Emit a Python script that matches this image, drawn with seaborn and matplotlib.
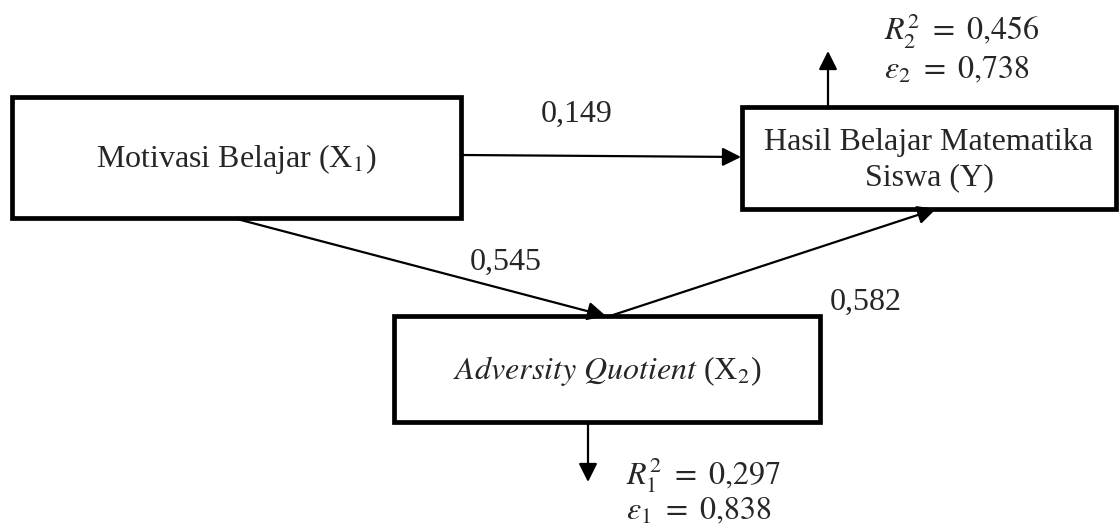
import matplotlib
matplotlib.use("Agg")
import matplotlib.pyplot as plt
import seaborn as sns
from matplotlib.patches import Rectangle

# path coefficients (X1->Y, X1->X2, X2->Y)
path_names = ["X1->Y", "X1->X2", "X2->Y"]
path_coef = [0.149, 0.545, 0.582]
# explained variance and residuals for X2 (1) and Y (2)
r_squared = [0.297, 0.456]
residuals = [0.838, 0.738]


def fmt(v):
    return f"{v:.3f}".replace(".", "{,}")


sns.set_theme(style="white")
plt.rcParams["font.family"] = ["Liberation Serif", "DejaVu Serif"]
plt.rcParams["mathtext.fontset"] = "stix"

fig = plt.figure(figsize=(11.19, 5.24), dpi=100)
ax = fig.add_axes([0, 0, 1, 1])
ax.set_xlim(0, 1119)
ax.set_ylim(524, 0)
ax.axis("off")

fs = 23
box_lw = 3.4

# boxes: (x0, y0, x1, y1)
boxes = {
    "X1": (12, 97, 461, 218),
    "Y": (742, 107, 1116, 209),
    "X2": (394, 316, 820, 422),
}
labels = {
    "X1": r"Motivasi Belajar (X$_{1}$)",
    "Y": "Hasil Belajar Matematika\nSiswa (Y)",
    "X2": r"$\mathit{Adversity\ Quotient}$ (X$_{2}$)",
}
for key, (x0, y0, x1, y1) in boxes.items():
    ax.add_patch(Rectangle((x0, y0), x1 - x0, y1 - y0, fill=False,
                           lw=box_lw, ec="black", joinstyle="miter"))
    ax.text((x0 + x1) / 2, (y0 + y1) / 2 + 2, labels[key], ha="center",
            va="center", fontsize=fs, linespacing=1.3)

arrow = dict(arrowstyle="-|>", mutation_scale=28, lw=1.6, color="black",
             shrinkA=0, shrinkB=0)

# path arrows
ax.annotate("", xy=(741, 157), xytext=(462, 155), arrowprops=arrow)
ax.annotate("", xy=(606, 316), xytext=(237, 219), arrowprops=arrow)
ax.annotate("", xy=(936, 209), xytext=(610, 316), arrowprops=arrow)

coef_pos = [(577, 114), (506, 262), (866, 302)]
for (x, y), v in zip(coef_pos, path_coef):
    ax.text(x, y, fmt(v).replace("{,}", ","), ha="center", va="center",
            fontsize=fs)

# residual arrows
ax.annotate("", xy=(828, 51), xytext=(828, 107), arrowprops=arrow)
ax.annotate("", xy=(588, 482), xytext=(588, 422), arrowprops=arrow)

mfs = 23
ax.text(884, 30, rf"$R_2^2\ =\ {fmt(r_squared[1])}$", ha="left",
        va="center", fontsize=mfs)
ax.text(884, 70, rf"$\varepsilon_2\ =\ {fmt(residuals[1])}$", ha="left",
        va="center", fontsize=mfs)
ax.text(626, 475, rf"$R_1^2\ =\ {fmt(r_squared[0])}$", ha="left",
        va="center", fontsize=mfs)
ax.text(626, 511, rf"$\varepsilon_1\ =\ {fmt(residuals[0])}$", ha="left",
        va="center", fontsize=mfs)

fig.savefig("out.png", dpi=100, facecolor="white")
